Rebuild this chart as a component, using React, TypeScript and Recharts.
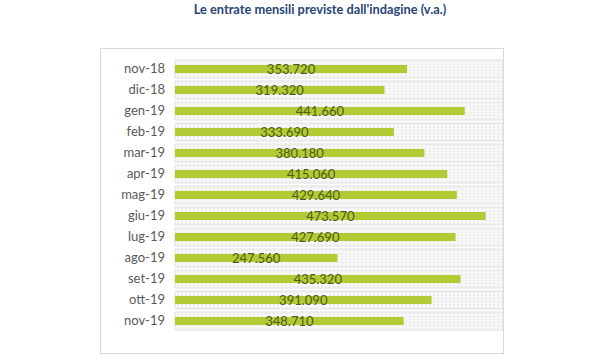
import { BarChart, Bar, XAxis, YAxis, LabelList } from 'recharts'

const months = ['nov-18', 'dic-18', 'gen-19', 'feb-19', 'mar-19', 'apr-19', 'mag-19', 'giu-19', 'lug-19', 'ago-19', 'set-19', 'ott-19', 'nov-19']
const entrate = [353720, 319320, 441660, 333690, 380180, 415060, 429640, 473570, 427690, 247560, 435320, 391090, 348710]
const axisMax = 500000

const data = months.map((m, i) => ({ name: m, value: entrate[i], full: axisMax }))

const fmt = (v: any) => Number(v).toLocaleString('it-IT')

export default function App() {
    return (
        <div style={{ position: 'absolute', left: 0, top: 0, width: 600, height: 360, background: '#fff', fontFamily: 'Lato, sans-serif' }}>
            <div style={{ position: 'absolute', left: 100, top: 48, width: 402, height: 304, border: '1px solid #d9d9d9' }} />
            <div style={{ position: 'absolute', left: 0, width: 640, top: 1, textAlign: 'center', fontSize: 12.8, fontWeight: 700, color: '#284578' }}>
                Le entrate mensili previste dall'indagine (v.a.)
            </div>
            <div style={{ position: 'absolute', left: 0, top: 0 }}>
                <BarChart
                    width={600}
                    height={360}
                    data={data}
                    layout="vertical"
                    margin={{ top: 58, right: 97, bottom: 29, left: 100 }}
                >
                    <defs>
                        <pattern id="dots" width="4" height="3" patternUnits="userSpaceOnUse">
                            <rect width="4" height="3" fill="#f8f8f8" />
                            <circle cx="2" cy="1.5" r="0.8" fill="#e2e2e2" />
                        </pattern>
                    </defs>
                    <XAxis type="number" domain={[0, axisMax]} hide xAxisId="v" />
                    <YAxis
                        type="category"
                        dataKey="name"
                        yAxisId="a"
                        width={75}
                        axisLine={false}
                        tickLine={false}
                        tickMargin={4}
                        tick={{ fill: '#595959', fontSize: 13, fontFamily: 'Lato, sans-serif' }}
                    />
                    <YAxis type="category" dataKey="name" yAxisId="b" hide />
                    <Bar
                        dataKey="full"
                        xAxisId="v"
                        yAxisId="a"
                        barSize={18}
                        fill="url(#dots)"
                        stroke="#e0e0e0"
                        strokeWidth={1}
                        isAnimationActive={false}
                    />
                    <Bar dataKey="value" xAxisId="v" yAxisId="b" barSize={8} fill="#b2ca34" isAnimationActive={false}>
                        <LabelList
                            dataKey="value"
                            position="center"
                            formatter={fmt}
                            style={{ fill: '#4d5d1a', fontSize: 13, fontFamily: 'Lato, sans-serif' }}
                        />
                    </Bar>
                </BarChart>
            </div>
        </div>
    )
}
